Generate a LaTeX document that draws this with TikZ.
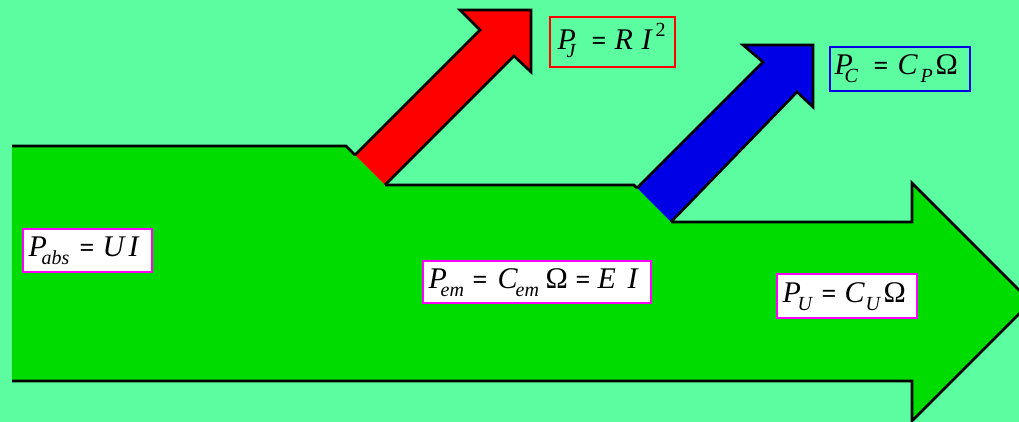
\documentclass[tikz,border=0pt]{standalone}
\usepackage{fontspec}
\setmainfont{Liberation Serif}
\definecolor{bg}{RGB}{92,252,160}
\definecolor{gfill}{RGB}{0,220,0}
\definecolor{rfill}{RGB}{255,0,0}
\definecolor{bfill}{RGB}{0,0,230}
\definecolor{mag}{RGB}{255,0,255}
\definecolor{bblue}{RGB}{0,0,230}
\newcommand\bigtxt{\fontsize{30}{30}\selectfont}
\newcommand\pl[2]{\rlap{\hspace{#1}#2}}
\newcommand\lo[1]{\raisebox{-8pt}{\fontsize{20}{20}\selectfont\itshape #1}}
\newcommand\hi[1]{\raisebox{13pt}{\fontsize{20}{20}\selectfont #1}}
\newcommand\eq{{\fontsize{26}{26}\selectfont\bfseries =}}
\begin{document}
\begin{tikzpicture}[x=1pt,y=-1pt,
  outl/.style={draw=black,line width=2.6pt,line join=miter},
  box/.style={line width=2.2pt,inner sep=0pt,anchor=center},
  whitebox/.style={box,draw=mag,fill=white},
  txt/.style={inner sep=0pt,anchor=base west,font=\bigtxt},
]
\fill[bg] (0,0) rectangle (1019,422);
\clip (0,0) rectangle (1019,422);
% green main arrow
\fill[gfill] (12,146) -- (346,146) -- (385,185) -- (634,185) -- (671,222) -- (912,222) -- (912,183) -- (1031,302) -- (912,421) -- (912,381) -- (12,381) -- cycle;
% red arrow
\fill[rfill] (355,155) -- (480,30) -- (460,10) -- (531,10) -- (531,72) -- (514,56) -- (385,185) -- cycle;
% blue arrow
\fill[bfill] (637,188) -- (763,62) -- (743,45) -- (813,45) -- (813,107) -- (797,92) -- (671,222) -- cycle;
% outlines
\draw[outl] (12,146) -- (346,146) -- (355,155);
\draw[outl] (355,155) -- (480,30) -- (460,10) -- (531,10) -- (531,72) -- (514,56) -- (385,185);
\draw[outl] (385,185) -- (634,185) -- (637,188);
\draw[outl] (637,188) -- (763,62) -- (743,45) -- (813,45) -- (813,107) -- (797,92) -- (671,222);
\draw[outl] (671,222) -- (912,222) -- (912,183) -- (1031,302) -- (912,421) -- (912,381) -- (12,381);
% label boxes
\node[box,draw=rfill,minimum width=125pt,minimum height=50pt] (pj) at (612.5,42) {};
\node[box,draw=bblue,minimum width=140pt,minimum height=44pt] (pc) at (900,69) {};
\node[whitebox,minimum width=129pt,minimum height=43pt] (pabs) at (87.5,250.5) {};
\node[whitebox,minimum width=228pt,minimum height=42pt] (pem) at (537,282) {};
\node[whitebox,minimum width=140pt,minimum height=44pt] (pu) at (847,296) {};
% label texts
\node[txt] (pjt) at (557,50)
  {\pl{0pt}{\textit{P}}\pl{9pt}{\lo{J}}\pl{34pt}{\eq}\pl{57pt}{\textit{R}}\pl{84pt}{\textit{I}}\pl{98pt}{\hi{2}}\hspace{105pt}};
\node[txt] (pct) at (834,75)
  {\pl{0pt}{\textit{P}}\pl{10pt}{\lo{C}}\pl{39pt}{\eq}\pl{63pt}{\textit{C}}\pl{86pt}{\lo{P}}\pl{101pt}{Ω}\hspace{123pt}};
\node[txt] (pabst) at (28,256)
  {\pl{0pt}{\textit{P}}\pl{13pt}{\lo{abs}}\pl{51pt}{\eq}\pl{74pt}{\textit{U}}\pl{100pt}{\textit{I}}\hspace{109pt}};
\node[txt] (pemt) at (428,288)
  {\pl{0pt}{\textit{P}}\pl{12pt}{\lo{em}}\pl{44pt}{\eq}\pl{69pt}{\textit{C}}\pl{87pt}{\lo{em}}\pl{117pt}{Ω}\pl{147pt}{\eq}\pl{169pt}{\textit{E}}\pl{199pt}{\textit{I}}\hspace{209pt}};
\node[txt] (put) at (782,302)
  {\pl{0pt}{\textit{P}}\pl{15pt}{\lo{U}}\pl{39pt}{\eq}\pl{62pt}{\textit{C}}\pl{83pt}{\lo{U}}\pl{101pt}{Ω}\hspace{125pt}};
\end{tikzpicture}
\end{document}
